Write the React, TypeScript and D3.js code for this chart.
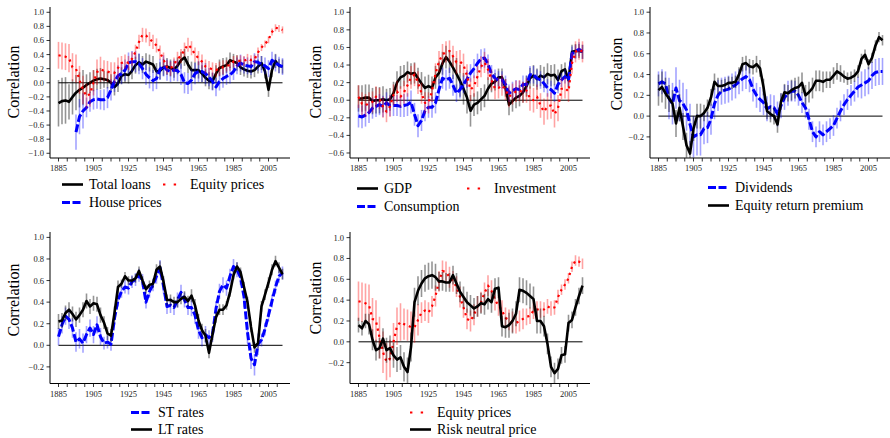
import * as d3 from 'd3';

// yearly grid (every second year) and error-band buckets (every ten years)
const years = d3.range(1885, 2014, 2);
const errYears = d3.range(1885, 2016, 10);
const xTicks = d3.range(1885, 2011, 5);
const xTickLabels = [1885, 1905, 1925, 1945, 1965, 1985, 2005];

// panel 1
const totalLoans = [
  -0.29, -0.26, -0.25, -0.27, -0.2, -0.14, -0.1, -0.07, -0.03, 0.0,
  0.03, 0.05, 0.06, 0.05, 0.04, 0.0, -0.06, -0.01, 0.1, 0.12,
  0.11, 0.17, 0.25, 0.29, 0.26, 0.3, 0.28, 0.26, 0.16, 0.17,
  0.22, 0.23, 0.21, 0.19, 0.24, 0.32, 0.36, 0.26, 0.18, 0.18,
  0.18, 0.13, 0.07, 0.03, 0.02, 0.13, 0.21, 0.23, 0.25, 0.32,
  0.3, 0.28, 0.22, 0.19, 0.17, 0.16, 0.18, 0.23, 0.28, 0.16,
  -0.1, 0.18, 0.31, 0.24, 0.23,
];
const totalLoansErr = [0.33, 0.25, 0.15, 0.12, 0.12, 0.12, 0.12, 0.12, 0.12, 0.12, 0.11, 0.1, 0.1, 0.1];

const equityPrices = [
  0.39, 0.38, 0.37, 0.35, 0.22, 0.2, 0.04, -0.1, -0.19, -0.16,
  0.0, 0.15, 0.19, 0.17, 0.16, 0.14, 0.14, 0.21, 0.28, 0.3,
  0.28, 0.34, 0.44, 0.58, 0.68, 0.67, 0.62, 0.58, 0.53, 0.43,
  0.33, 0.22, 0.2, 0.26, 0.34, 0.38, 0.47, 0.54, 0.49, 0.4,
  0.35, 0.3, 0.23, 0.21, 0.19, 0.18, 0.2, 0.22, 0.24, 0.25,
  0.3, 0.31, 0.31, 0.31, 0.34, 0.32, 0.33, 0.43, 0.5, 0.55,
  0.61, 0.72, 0.78, 0.77, 0.75,
];
const equityPricesErr = [0.19, 0.2, 0.18, 0.15, 0.1, 0.1, 0.1, 0.1, 0.1, 0.1, 0.08, 0.07, 0.05, 0.05];

const housePrices = [
  null, null, null, null, null, -0.7, -0.48, -0.4, -0.35, -0.27,
  -0.24, -0.23, -0.24, -0.24, -0.21, -0.1, 0.02, 0.1, 0.13, 0.18,
  0.28, 0.3, 0.3, 0.27, 0.2, 0.12, 0.07, 0.03, 0.06, 0.19,
  0.24, 0.18, 0.16, 0.18, 0.17, 0.12, 0.0, -0.01, 0.04, 0.13,
  0.16, 0.16, 0.13, 0.08, 0.02, -0.06, 0.02, 0.06, 0.09, 0.11,
  0.16, 0.24, 0.28, 0.25, 0.24, 0.23, 0.3, 0.29, 0.26, 0.24,
  0.2, 0.32, 0.28, 0.25, 0.23,
];
const housePricesErr = [0.25, 0.25, 0.14, 0.15, 0.15, 0.15, 0.15, 0.15, 0.15, 0.13, 0.12, 0.12, 0.12, 0.12];

// panel 2
const gdp = [
  0.02, 0.02, 0.03, 0.03, -0.01, 0.0, 0.0, 0.01, 0.0, 0.01,
  0.08, 0.2, 0.26, 0.28, 0.32, 0.3, 0.31, 0.25, 0.19, 0.14,
  0.16, 0.14, 0.26, 0.31, 0.42, 0.49, 0.44, 0.37, 0.3, 0.22,
  0.13, 0.03, -0.12, -0.05, -0.03, 0.01, 0.05, 0.13, 0.19, 0.21,
  0.26, 0.26, 0.14, -0.05, -0.01, 0.03, 0.05, 0.09, 0.16, 0.25,
  0.28, 0.24, 0.28, 0.26, 0.3, 0.28, 0.29, 0.23, 0.33, 0.35,
  0.23, 0.55, 0.56, 0.56, 0.55,
];
const gdpErr = [0.15, 0.15, 0.13, 0.12, 0.13, 0.13, 0.18, 0.13, 0.1, 0.12, 0.12, 0.12, 0.08, 0.08];

const consumption = [
  -0.18, -0.19, -0.17, -0.14, -0.09, -0.07, -0.05, -0.07, -0.03, -0.06,
  -0.06, -0.06, -0.07, -0.06, -0.05, -0.02, -0.16, -0.29, -0.23, -0.12,
  -0.08, -0.08, -0.03, 0.12, 0.25, 0.23, 0.25, 0.17, 0.08, 0.12,
  0.18, 0.24, 0.31, 0.36, 0.42, 0.47, 0.48, 0.41, 0.3, 0.25,
  0.23, 0.23, 0.18, 0.08, 0.11, 0.13, 0.12, 0.18, 0.18, 0.29,
  0.29, 0.25, 0.23, 0.19, 0.14, 0.12, 0.08, 0.18, 0.23, 0.27,
  0.23, 0.53, 0.55, 0.58, 0.55,
];
const consumptionErr = [0.13, 0.12, 0.12, 0.13, 0.12, 0.12, 0.1, 0.11, 0.1, 0.1, 0.1, 0.1, 0.08, 0.08];

const investment = [
  0.04, -0.04, -0.06, -0.03, -0.02, 0.04, 0.02, -0.08, -0.13, -0.07,
  0.06, 0.1, 0.04, 0.09, 0.17, 0.26, 0.29, 0.2, 0.08, -0.03,
  -0.03, 0.1, 0.3, 0.44, 0.52, 0.55, 0.56, 0.5, 0.43, 0.44,
  0.4, 0.28, 0.12, 0.16, 0.27, 0.38, 0.43, 0.35, 0.23, 0.13,
  0.14, 0.17, 0.12, 0.04, 0.07, 0.1, 0.11, 0.09, 0.11, 0.02,
  0.0, 0.04, -0.06, -0.13, -0.07, -0.06, -0.16, -0.09, 0.13, 0.14,
  0.1, 0.42, 0.55, 0.58, 0.55,
];
const investmentErr = [0.13, 0.12, 0.12, 0.13, 0.12, 0.12, 0.13, 0.12, 0.12, 0.12, 0.14, 0.15, 0.12, 0.12];

// panel 3
const dividends = [
  0.31, 0.33, 0.31, 0.17, 0.12, 0.27, 0.15, 0.12, 0.06, -0.08,
  -0.2, -0.18, -0.18, -0.12, -0.11, -0.03, 0.12, 0.2, 0.24, 0.25,
  0.26, 0.28, 0.3, 0.33, 0.36, 0.38, 0.35, 0.26, 0.2, 0.16,
  0.13, 0.07, 0.09, 0.08, 0.02, 0.1, 0.18, 0.22, 0.24, 0.24,
  0.2, 0.13, 0.08, -0.03, -0.15, -0.2, -0.15, -0.18, -0.15, -0.12,
  -0.09, -0.02, 0.05, 0.11, 0.16, 0.2, 0.24, 0.28, 0.3, 0.32,
  0.34, 0.39, 0.42, 0.43, 0.43,
];
const dividendsErr = [0.12, 0.2, 0.2, 0.15, 0.13, 0.12, 0.12, 0.12, 0.1, 0.1, 0.1, 0.1, 0.13, 0.13];

const equityReturnPremium = [
  0.25, 0.28, 0.22, 0.17, 0.12, -0.07, 0.08, -0.1, -0.28, -0.36,
  -0.12, 0.0, 0.0, 0.03, 0.08, 0.18, 0.33, 0.29, 0.29, 0.3,
  0.32, 0.32, 0.33, 0.4, 0.5, 0.51, 0.48, 0.47, 0.5, 0.46,
  0.28, 0.05, 0.02, 0.0, -0.08, 0.14, 0.23, 0.22, 0.25, 0.27,
  0.28, 0.32, 0.2, 0.23, 0.27, 0.34, 0.34, 0.33, 0.35, 0.35,
  0.39, 0.43, 0.41, 0.38, 0.36, 0.37, 0.39, 0.43, 0.55, 0.59,
  0.5, 0.56, 0.68, 0.76, 0.73,
];
const equityReturnPremiumErr = [0.15, 0.13, 0.12, 0.08, 0.06, 0.07, 0.08, 0.08, 0.1, 0.1, 0.08, 0.06, 0.05, 0.05];

// panel 4
const stRates = [
  0.08, 0.19, 0.27, 0.24, 0.16, 0.03, 0.06, 0.02, 0.1, 0.16,
  0.1, 0.19, 0.08, 0.02, 0.03, 0.01, 0.25, 0.42, 0.5, 0.54,
  0.53, 0.59, 0.61, 0.65, 0.6, 0.4, 0.5, 0.56, 0.64, 0.72,
  0.55, 0.36, 0.37, 0.35, 0.42, 0.49, 0.42, 0.35, 0.35, 0.28,
  0.14, 0.07, 0.1, 0.07, 0.1, 0.34, 0.5, 0.56, 0.53, 0.64,
  0.73, 0.7, 0.63, 0.45, 0.12, -0.12, -0.18, 0.01, 0.05, 0.15,
  0.28, 0.41, 0.54, 0.64, 0.67,
];
const stRatesErr = [0.08, 0.09, 0.08, 0.06, 0.06, 0.06, 0.07, 0.07, 0.08, 0.07, 0.07, 0.1, 0.06, 0.06];

const ltRates = [
  0.22, 0.23, 0.3, 0.33, 0.29, 0.24, 0.28, 0.33, 0.41, 0.36,
  0.39, 0.38, 0.28, 0.21, 0.11, 0.09, 0.3, 0.54, 0.57, 0.64,
  0.6, 0.6, 0.62, 0.69, 0.6, 0.52, 0.56, 0.57, 0.7, 0.73,
  0.59, 0.42, 0.42, 0.4, 0.4, 0.43, 0.45, 0.41, 0.46, 0.37,
  0.23, 0.14, 0.09, -0.07, 0.1, 0.26, 0.33, 0.33, 0.37, 0.49,
  0.65, 0.73, 0.68, 0.54, 0.4, 0.17, -0.02, 0.02, 0.36, 0.47,
  0.58, 0.7, 0.78, 0.72, 0.66,
];
const ltRatesErr = [0.07, 0.07, 0.07, 0.06, 0.04, 0.04, 0.05, 0.05, 0.06, 0.05, 0.04, 0.05, 0.05, 0.05];

// panel 5
const riskNeutralPrice = [
  0.16, 0.13, 0.2, 0.17, 0.02, -0.08, -0.06, 0.03, -0.08, -0.06,
  -0.13, -0.17, -0.15, -0.24, -0.29, -0.05, 0.38, 0.49, 0.56, 0.61,
  0.63, 0.64, 0.62, 0.58, 0.58, 0.57, 0.57, 0.64, 0.56, 0.48,
  0.43, 0.38, 0.35, 0.32, 0.34, 0.37, 0.36, 0.41, 0.38, 0.51,
  0.52, 0.15, 0.14, 0.16, 0.2, 0.27, 0.5, 0.49, 0.47, 0.44,
  0.41, 0.2, 0.2, 0.15, -0.02, -0.24, -0.3, -0.26, -0.13, -0.12,
  0.18, 0.21, 0.33, 0.44, 0.54,
];
const riskNeutralPriceErr = [0.07, 0.1, 0.12, 0.14, 0.13, 0.09, 0.1, 0.1, 0.1, 0.12, 0.12, 0.1, 0.08, 0.08];

const BLACK = '#000000';
const BLUE = '#0000ff';
const RED = '#ff0000';
const FONT = "'Liberation Serif', 'Times New Roman', serif";

type Kind = 'solid' | 'dashed' | 'dotted';

interface Series {
  label: string;
  values: (number | null)[];
  err: number[];
  color: string;
  kind: Kind;
}

interface LegendItem {
  series: Series;
  x: number;
  y: number;
}

interface PanelSpec {
  id: string;
  x0: number;
  yTop: number;
  yBot: number;
  domain: [number, number];
  yTicks: number[];
  series: Series[];
  legend: LegendItem[];
  ylab: [number, number];
}

const loansS: Series = { label: 'Total loans', values: totalLoans, err: totalLoansErr, color: BLACK, kind: 'solid' };
const houseS: Series = { label: 'House prices', values: housePrices, err: housePricesErr, color: BLUE, kind: 'dashed' };
const equityS: Series = { label: 'Equity prices', values: equityPrices, err: equityPricesErr, color: RED, kind: 'dotted' };
const gdpS: Series = { label: 'GDP', values: gdp, err: gdpErr, color: BLACK, kind: 'solid' };
const consS: Series = { label: 'Consumption', values: consumption, err: consumptionErr, color: BLUE, kind: 'dashed' };
const invS: Series = { label: 'Investment', values: investment, err: investmentErr, color: RED, kind: 'dotted' };
const divS: Series = { label: 'Dividends', values: dividends, err: dividendsErr, color: BLUE, kind: 'dashed' };
const erpS: Series = { label: 'Equity return premium', values: equityReturnPremium, err: equityReturnPremiumErr, color: BLACK, kind: 'solid' };
const stS: Series = { label: 'ST rates', values: stRates, err: stRatesErr, color: BLUE, kind: 'dashed' };
const ltS: Series = { label: 'LT rates', values: ltRates, err: ltRatesErr, color: BLACK, kind: 'solid' };
const rnpS: Series = { label: 'Risk neutral price', values: riskNeutralPrice, err: riskNeutralPriceErr, color: BLACK, kind: 'solid' };

const panels: PanelSpec[] = [
  {
    id: 'p1', x0: 50, yTop: 7, yBot: 158, domain: [-1.067, 1.075],
    yTicks: d3.range(-1.0, 1.01, 0.2), series: [loansS, houseS, equityS],
    legend: [
      { series: loansS, x: 62, y: 184.5 },
      { series: houseS, x: 62, y: 202.5 },
      { series: equityS, x: 163, y: 184.5 },
    ],
    ylab: [13.5, 82],
  },
  {
    id: 'p2', x0: 350, yTop: 7, yBot: 158, domain: [-0.657, 1.06],
    yTicks: d3.range(-0.6, 1.01, 0.2), series: [gdpS, consS, invS],
    legend: [
      { series: gdpS, x: 357, y: 188.5 },
      { series: consS, x: 357, y: 206.5 },
      { series: invS, x: 467, y: 188.5 },
    ],
    ylab: [315, 82],
  },
  {
    id: 'p3', x0: 650, yTop: 7, yBot: 158, domain: [-0.403, 1.05],
    yTicks: d3.range(-0.2, 1.01, 0.2), series: [divS, erpS],
    legend: [
      { series: divS, x: 708, y: 187.5 },
      { series: erpS, x: 708, y: 205.5 },
    ],
    ylab: [616, 74],
  },
  {
    id: 'p4', x0: 50, yTop: 232, yBot: 383.5, domain: [-0.354, 1.05],
    yTicks: d3.range(-0.2, 1.01, 0.2), series: [stS, ltS],
    legend: [
      { series: stS, x: 131, y: 412.5 },
      { series: ltS, x: 131, y: 429.5 },
    ],
    ylab: [13.5, 300],
  },
  {
    id: 'p5', x0: 350, yTop: 232, yBot: 383.5, domain: [-0.4, 1.054],
    yTicks: d3.range(-0.2, 1.01, 0.2), series: [equityS, rnpS],
    legend: [
      { series: equityS, x: 410, y: 412.5 },
      { series: rnpS, x: 410, y: 429.5 },
    ],
    ylab: [315, 298],
  },
];

const lineStyle = (s: Series) => {
  if (s.kind === 'dashed') return { width: 3, dash: '8,2.5' };
  if (s.kind === 'dotted') return { width: 2.2, dash: '2.2,4' };
  return { width: 2.6, dash: undefined };
};

const fmtTick = (v: number) => {
  const t = Math.abs(v) < 1e-9 ? '0.0' : v.toFixed(1);
  return t.replace('-', '\u2212');
};

function Panel({ spec }: { spec: PanelSpec }) {
  const { x0, yTop, yBot } = spec;
  const x = d3.scaleLinear().domain([1885, 2005]).range([x0 + 8.5, x0 + 218.5]);
  const y = d3.scaleLinear().domain(spec.domain).range([yBot, yTop]);
  const right = x0 + 240;

  const line = d3
    .line<number | null>()
    .defined((v) => v != null)
    .x((_, i) => x(years[i]))
    .y((v) => y(v as number));

  const errAt = (s: Series, i: number) => s.err[Math.round((years[i] - errYears[0]) / 10)];

  return (
    <g>
      <defs>
        <clipPath id={`clip-${spec.id}`}>
          <rect x={x0} y={yTop} width={right - x0} height={yBot - yTop} />
        </clipPath>
      </defs>

      <g clipPath={`url(#clip-${spec.id})`}>
        <line
          x1={x(years[0])}
          x2={x(years[years.length - 1])}
          y1={y(0)}
          y2={y(0)}
          stroke={BLACK}
          strokeWidth={1}
        />
        {spec.series.map((s) => {
          const st = lineStyle(s);
          return (
            <g key={s.label}>
              <g stroke={s.color} strokeOpacity={s.color === BLACK ? 0.42 : 0.36} strokeWidth={1.6}>
                {s.values.map((v, i) =>
                  v == null ? null : (
                    <line
                      key={i}
                      x1={x(years[i])}
                      x2={x(years[i])}
                      y1={y(v - errAt(s, i))}
                      y2={y(v + errAt(s, i))}
                    />
                  )
                )}
              </g>
              <path
                d={line(s.values) || ''}
                fill="none"
                stroke={s.color}
                strokeWidth={st.width}
                strokeDasharray={st.dash}
                strokeLinejoin="round"
              />
            </g>
          );
        })}
      </g>

      {/* spines */}
      <line x1={x0} x2={x0} y1={yTop} y2={yBot} stroke={BLACK} strokeWidth={1} />
      <line x1={x0} x2={right} y1={yBot} y2={yBot} stroke={BLACK} strokeWidth={1} />

      {/* y axis */}
      {spec.yTicks.map((t) => (
        <g key={t}>
          <line x1={x0 - 3.5} x2={x0} y1={y(t)} y2={y(t)} stroke={BLACK} strokeWidth={0.8} />
          <text
            x={x0 - 6}
            y={y(t)}
            textAnchor="end"
            dominantBaseline="central"
            fontSize={8.5}
            fontFamily={FONT}
            fill="#222"
          >
            {fmtTick(t)}
          </text>
        </g>
      ))}

      {/* x axis */}
      {xTicks.map((t) => (
        <line key={t} x1={x(t)} x2={x(t)} y1={yBot} y2={yBot + 3.5} stroke={BLACK} strokeWidth={0.8} />
      ))}
      {xTickLabels.map((t) => (
        <text
          key={t}
          x={x(t)}
          y={yBot + 10}
          textAnchor="middle"
          dominantBaseline="central"
          fontSize={8.5}
          fontFamily={FONT}
          fill="#222"
        >
          {t}
        </text>
      ))}

      <text
        transform={`translate(${spec.ylab[0]},${spec.ylab[1]}) rotate(-90)`}
        textAnchor="middle"
        dominantBaseline="central"
        fontSize={16}
        fontFamily={FONT}
        fill={BLACK}
      >
        Correlation
      </text>

      {/* legend */}
      {spec.legend.map((it) => {
        const st = lineStyle(it.series);
        return (
          <g key={it.series.label}>
            <line
              x1={it.x}
              x2={it.x + 21}
              y1={it.y}
              y2={it.y}
              stroke={it.series.color}
              strokeWidth={st.width}
              strokeDasharray={it.series.kind === 'dotted' ? '2.4,8.3' : st.dash}
            />
            <text
              x={it.x + 27}
              y={it.y}
              dominantBaseline="central"
              fontSize={14}
              fontFamily={FONT}
              fill={BLACK}
            >
              {it.series.label}
            </text>
          </g>
        );
      })}
    </g>
  );
}

export default function App() {
  return (
    <svg
      width={890}
      height={438}
      style={{ position: 'absolute', left: 0, top: 0, background: '#ffffff' }}
    >
      {panels.map((p) => (
        <Panel key={p.id} spec={p} />
      ))}
    </svg>
  );
}
